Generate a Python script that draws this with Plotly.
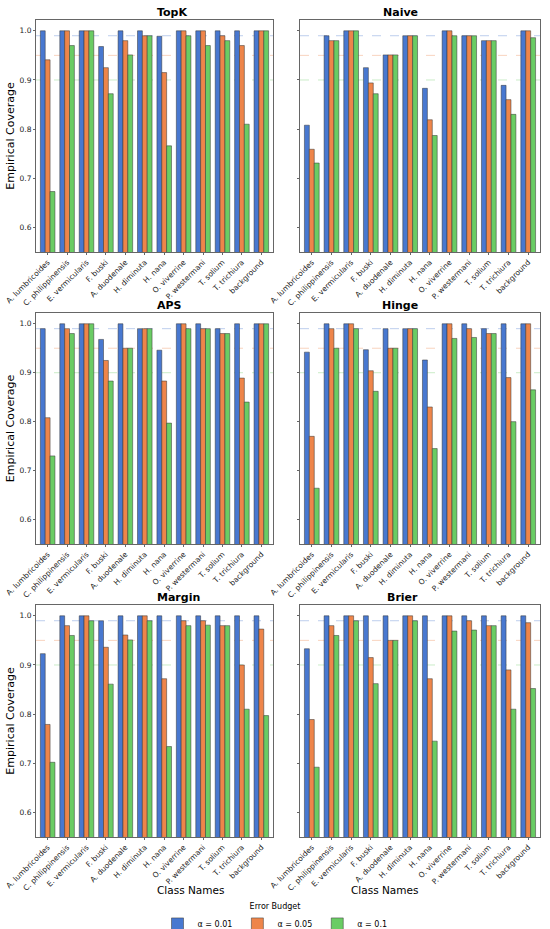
import plotly.graph_objects as go
from plotly.subplots import make_subplots

classes = ['A. lumbricoides', 'C. philippinensis', 'E. vermicularis', 'F. buski',
           'A. duodenale', 'H. diminuta', 'H. nana', 'O. viverrine',
           'P. westermani', 'T. solium', 'T. trichiura', 'background']
methods = ['TopK', 'Naive', 'APS', 'Hinge', 'Margin', 'Brier']
alphas = [0.01, 0.05, 0.1]

# coverage per method, one list per alpha
topk_001 = [1.0, 1.0, 1.0, 0.968, 1.0, 1.0, 0.989, 1.0, 1.0, 1.0, 1.0, 1.0]
topk_005 = [0.941, 1.0, 1.0, 0.925, 0.98, 0.99, 0.915, 1.0, 1.0, 0.99, 0.97, 1.0]
topk_010 = [0.673, 0.97, 1.0, 0.872, 0.951, 0.99, 0.766, 0.99, 0.97, 0.98, 0.81, 1.0]

naive_001 = [0.808, 0.99, 1.0, 0.925, 0.951, 0.99, 0.883, 1.0, 0.99, 0.98, 0.889, 1.0]
naive_005 = [0.759, 0.98, 1.0, 0.894, 0.951, 0.99, 0.819, 1.0, 0.99, 0.98, 0.86, 1.0]
naive_010 = [0.731, 0.98, 1.0, 0.872, 0.951, 0.99, 0.787, 0.99, 0.99, 0.98, 0.83, 0.986]

aps_001 = [0.99, 1.0, 1.0, 0.968, 1.0, 0.99, 0.946, 1.0, 1.0, 0.99, 1.0, 1.0]
aps_005 = [0.808, 0.99, 1.0, 0.925, 0.95, 0.99, 0.883, 1.0, 0.99, 0.98, 0.889, 1.0]
aps_010 = [0.73, 0.98, 1.0, 0.883, 0.95, 0.99, 0.797, 0.99, 0.99, 0.98, 0.84, 1.0]

hinge_001 = [0.942, 1.0, 1.0, 0.947, 0.99, 0.99, 0.926, 1.0, 1.0, 0.99, 1.0, 1.0]
hinge_005 = [0.77, 0.99, 1.0, 0.904, 0.95, 0.99, 0.83, 1.0, 0.99, 0.98, 0.89, 1.0]
hinge_010 = [0.664, 0.95, 0.99, 0.862, 0.95, 0.99, 0.745, 0.97, 0.972, 0.98, 0.80, 0.865]

margin_001 = [0.923, 1.0, 1.0, 0.99, 1.0, 1.0, 1.0, 1.0, 1.0, 1.0, 1.0, 1.0]
margin_005 = [0.779, 0.98, 1.0, 0.936, 0.961, 1.0, 0.872, 0.99, 0.99, 0.98, 0.90, 0.973]
margin_010 = [0.702, 0.96, 0.99, 0.861, 0.951, 0.99, 0.734, 0.98, 0.981, 0.98, 0.81, 0.797]

brier_001 = [0.933, 1.0, 1.0, 1.0, 1.0, 1.0, 1.0, 1.0, 1.0, 1.0, 1.0, 1.0]
brier_005 = [0.789, 0.98, 1.0, 0.915, 0.95, 1.0, 0.872, 1.0, 0.99, 0.98, 0.89, 0.986]
brier_010 = [0.692, 0.96, 0.99, 0.862, 0.95, 0.99, 0.745, 0.969, 0.971, 0.98, 0.81, 0.852]

data = {
    'TopK': [topk_001, topk_005, topk_010],
    'Naive': [naive_001, naive_005, naive_010],
    'APS': [aps_001, aps_005, aps_010],
    'Hinge': [hinge_001, hinge_005, hinge_010],
    'Margin': [margin_001, margin_005, margin_010],
    'Brier': [brier_001, brier_005, brier_010],
}

colors = ['#4878d0', '#ee854a', '#6acc64']
font = 'DejaVu Sans'

fig = make_subplots(rows=3, cols=2)

# panel domains (paper coords)
xdom = [[36 / 550, 273 / 550], [300 / 550, 540 / 550]]
ydom = [[1 - 252 / 929, 1 - 20 / 929], [1 - 544 / 929, 1 - 313 / 929], [1 - 837 / 929, 1 - 605 / 929]]

for i, m in enumerate(methods):
    r, c = i // 2 + 1, i % 2 + 1
    for j, a in enumerate(alphas):
        fig.add_trace(go.Bar(x=classes, y=data[m][j], name='α = ' + str(a),
                             marker=dict(color=colors[j], line=dict(color='#333333', width=0.5)),
                             showlegend=(i == 0), legendgroup=str(a)),
                      row=r, col=c)
    # target coverage lines
    for j, a in enumerate(alphas):
        fig.add_hline(y=1 - a, line=dict(color=colors[j], width=1, dash='dash'),
                      opacity=0.35, layer='below', row=r, col=c)
    n = i + 1
    xa = 'xaxis' if n == 1 else 'xaxis%d' % n
    ya = 'yaxis' if n == 1 else 'yaxis%d' % n
    fig.layout[xa].domain = xdom[c - 1]
    fig.layout[ya].domain = ydom[r - 1]
    fig.add_annotation(text='<b>' + m + '</b>', xref='paper', yref='paper',
                       x=sum(xdom[c - 1]) / 2, y=ydom[r - 1][1], yanchor='bottom', yshift=-1,
                       showarrow=False, font=dict(size=11, color='black', family=font))

fig.update_xaxes(tickangle=-45, tickfont=dict(size=7.5, color='#222'), showline=True,
                 mirror=True, linecolor='#666', linewidth=1, ticks='outside', ticklen=2,
                 tickcolor='#666', automargin=False, showgrid=False,
                 range=[-0.6, len(classes) - 0.4])
fig.update_yaxes(range=[0.55, 1.022], tickvals=[0.6, 0.7, 0.8, 0.9, 1.0],
                 tickformat='.1f', tickfont=dict(size=7.5, color='#222'), showline=True,
                 mirror=True, linecolor='#666', linewidth=1, ticks='outside', ticklen=2,
                 tickcolor='#666', automargin=False, showgrid=False, zeroline=False)
for r in range(1, 4):
    fig.update_yaxes(showticklabels=False, row=r, col=2)
    fig.update_yaxes(title=dict(text='Empirical Coverage', font=dict(size=11, family=font),
                                standoff=2), row=r, col=1)
for c in range(1, 3):
    fig.add_annotation(text='Class Names', xref='paper', yref='paper',
                       x=sum(xdom[c - 1]) / 2, y=1 - 890 / 929, yanchor='middle',
                       showarrow=False, font=dict(size=10.5, color='black', family=font))

fig.update_layout(
    width=550, height=939,
    margin=dict(l=0, r=0, t=0, b=0),
    paper_bgcolor='white', plot_bgcolor='white',
    font=dict(family=font, color='black'),
    barmode='group', bargap=0.25, bargroupgap=0,
    legend=dict(orientation='h', x=0.5, xanchor='center', y=1 - 899 / 929, yanchor='top',
                title=dict(text='Error Budget', side='top center', font=dict(size=8)),
                font=dict(size=8), itemwidth=30, tracegroupgap=0, traceorder='normal'),
)

# pin the graph div to the top-left of the window so the page is exactly the figure
page_js = """
document.body.style.margin = '0';
document.documentElement.style.overflow = 'hidden';
document.body.style.overflow = 'hidden';
var gd = document.getElementById('{plot_id}');
gd.style.position = 'fixed';
gd.style.left = '0px';
gd.style.top = '0px';
"""
fig.write_html("out.html", config={'displayModeBar': False}, post_script=page_js)
